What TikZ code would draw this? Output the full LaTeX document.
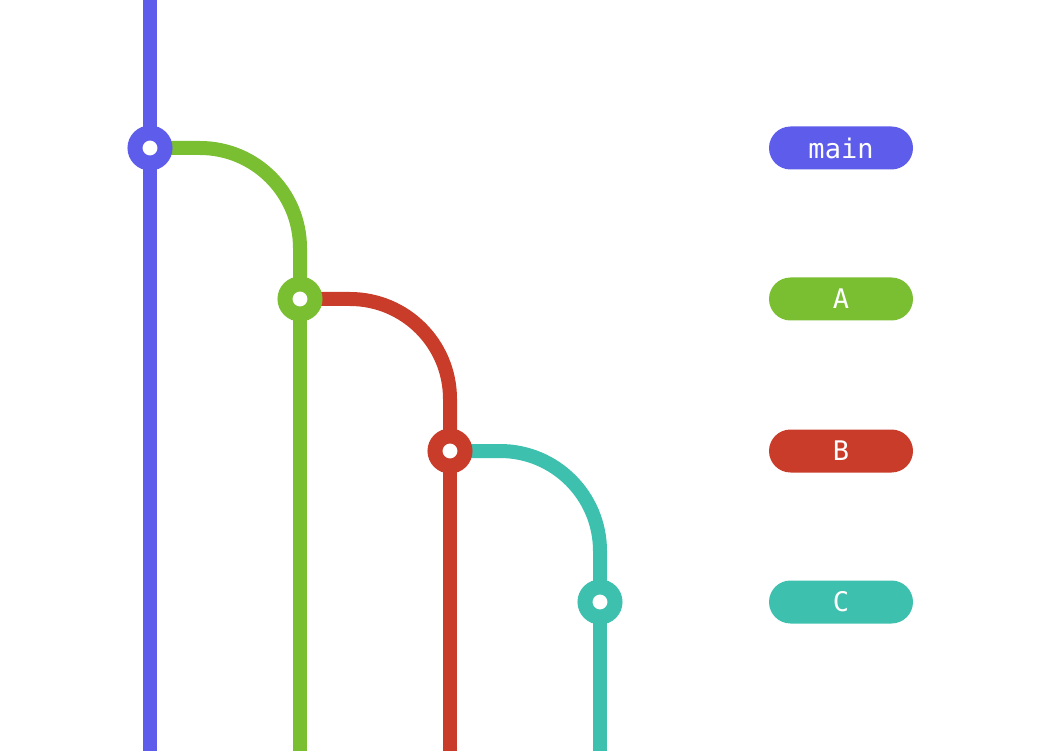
\documentclass[tikz,border=0pt]{standalone}
\usepackage{fontspec}
\setmonofont{DejaVu Sans Mono}
\usetikzlibrary{backgrounds}
\definecolor{mainc}{RGB}{94,92,234}
\definecolor{ac}{RGB}{122,190,50}
\definecolor{bc}{RGB}{201,60,42}
\definecolor{cc}{RGB}{62,192,175}
\tikzset{
  commit/.style={circle, draw=#1, fill=white, line width=15pt, minimum size=30pt, inner sep=0pt},
  branch/.style={line width=14pt, draw=#1},
  tag/.style={fill=#1, text=white, rounded corners=21.5pt, minimum width=144pt, minimum height=43pt,
    inner sep=0pt, font=\ttfamily\fontsize{27}{27}\selectfont},
}
\begin{document}
\begin{tikzpicture}[x=1pt,y=-1pt]
\pgfmathsetmacro{\r}{100};
\useasboundingbox (0,0) rectangle (1050,751);
% commits
\node[commit=mainc] (m) at (150,148) {};
\node[commit=ac] (a) at (300,299) {};
\node[commit=bc] (b) at (450,451) {};
\node[commit=cc] (c) at (600,602) {};
\coordinate (mtop) at (150,0);
\coordinate (mbot) at (150,751);
\coordinate (abot) at (300,751);
\coordinate (bbot) at (450,751);
\coordinate (cbot) at (600,751);
\begin{pgfonlayer}{background}
\draw[branch=mainc] (mtop) -- (mbot);
\draw[branch=ac, rounded corners=\r pt] (m.center) -| (a.center);
\draw[branch=ac] (a.center) -- (abot);
\draw[branch=bc, rounded corners=\r pt] (a.center) -| (b.center);
\draw[branch=bc] (b.center) -- (bbot);
\draw[branch=cc, rounded corners=\r pt] (b.center) -| (c.center);
\draw[branch=cc] (c.center) -- (cbot);
\end{pgfonlayer}
% labels
\node[tag=mainc] (lmain) at (841,148) {main};
\node[tag=ac] (la) at (841,299) {A};
\node[tag=bc] (lb) at (841,451) {B};
\node[tag=cc] (lc) at (841,602) {C};
\end{tikzpicture}
\end{document}
